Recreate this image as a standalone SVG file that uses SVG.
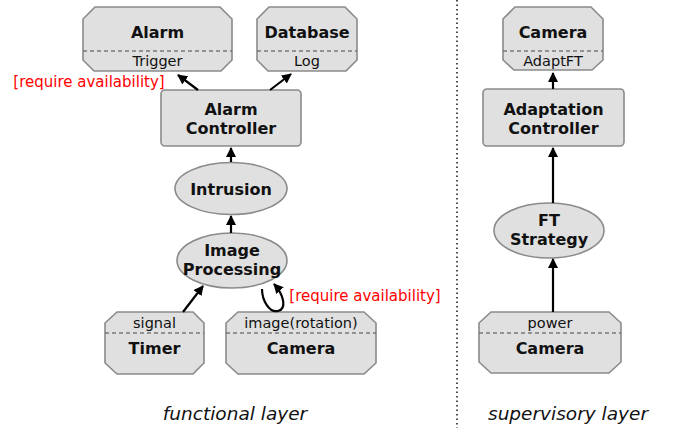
<svg xmlns="http://www.w3.org/2000/svg" width="673" height="428" viewBox="0 0 673 428">
<defs>
<marker id="ah" viewBox="0 0 10 10" refX="9" refY="5" markerWidth="10" markerHeight="10" markerUnits="userSpaceOnUse" orient="auto">
<path d="M0,0 L10,5 L0,10 Z" fill="#000"/>
</marker>
</defs>
<style>
.n{fill:#e0e0e0;stroke:#8a8a8a;stroke-width:1.6}
.d{stroke:#777;stroke-width:1.3;stroke-dasharray:4 3;fill:none}
.b{font-family:"DejaVu Sans",Verdana,sans-serif;font-weight:bold;font-size:16px;fill:#111;text-anchor:middle}
.r{font-family:"DejaVu Sans",Verdana,sans-serif;font-size:14.5px;fill:#111;text-anchor:middle}
.red{font-family:"DejaVu Sans",Verdana,sans-serif;font-size:15px;fill:#f00;text-anchor:middle}
.lay{font-family:"DejaVu Sans",Verdana,sans-serif;font-style:italic;font-size:18.5px;fill:#111;text-anchor:middle}
.c{fill:none;stroke:#000;stroke-width:2.2;marker-end:url(#ah)}
</style>
<rect width="673" height="428" fill="#fff"/>
<line x1="457" y1="0" x2="457" y2="428" stroke="#222" stroke-width="1.6" stroke-dasharray="1.5 3"/>

<g id="alarm">
<polygon class="n" points="95,7 220,7 232,19 232,60 221,71 94,71 83,60 83,19"/>
<line class="d" x1="83" y1="51" x2="232" y2="51"/>
<text class="b" x="157.5" y="38">Alarm</text>
<text class="r" x="157.5" y="66">Trigger</text>
</g>
<g id="database">
<polygon class="n" points="269,7 345,7 357,19 357,60 346,71 268,71 257,60 257,19"/>
<line class="d" x1="257" y1="51" x2="357" y2="51"/>
<text class="b" x="307" y="38">Database</text>
<text class="r" x="307" y="66">Log</text>
</g>
<g id="alarmController">
<rect class="n" x="161" y="90" width="140" height="56" rx="4"/>
<text class="b" x="231" y="115">Alarm</text>
<text class="b" x="231" y="134">Controller</text>
</g>
<g id="intrusion">
<ellipse class="n" cx="231" cy="188.5" rx="56" ry="26"/>
<text class="b" x="231" y="195">Intrusion</text>
</g>
<g id="imageProcessing">
<ellipse class="n" cx="232" cy="260.5" rx="55" ry="27.5"/>
<text class="b" x="232" y="256">Image</text>
<text class="b" x="232" y="275">Processing</text>
</g>
<g id="timer">
<polygon class="n" points="117,312 193,312 204,323 204,363 193,374 117,374 105,363 105,323"/>
<line class="d" x1="105" y1="333" x2="204" y2="333"/>
<text class="r" x="154.5" y="328">signal</text>
<text class="b" x="154.5" y="354">Timer</text>
</g>
<g id="cameraF">
<polygon class="n" points="238,312 364,312 376,323 376,363 364,374 238,374 226,363 226,323"/>
<line class="d" x1="226" y1="333" x2="376" y2="333"/>
<text class="r" x="301" y="328">image(rotation)</text>
<text class="b" x="301" y="354">Camera</text>
</g>
<g id="cameraTop">
<polygon class="n" points="515,7 591,7 603,19 603,60 592,70 514,70 503,60 503,19"/>
<line class="d" x1="503" y1="51" x2="603" y2="51"/>
<text class="b" x="553" y="38">Camera</text>
<text class="r" x="553" y="66">AdaptFT</text>
</g>
<g id="adaptationController">
<rect class="n" x="483" y="89" width="141" height="57" rx="4"/>
<text class="b" x="553.5" y="115">Adaptation</text>
<text class="b" x="553.5" y="134">Controller</text>
</g>
<g id="ftStrategy">
<ellipse class="n" cx="549" cy="230.5" rx="55" ry="27.5"/>
<text class="b" x="549" y="226">FT</text>
<text class="b" x="549" y="245">Strategy</text>
</g>
<g id="cameraS">
<polygon class="n" points="491,312 609,312 621,323 621,362 609,373 491,373 479,362 479,323"/>
<line class="d" x1="479" y1="333" x2="621" y2="333"/>
<text class="r" x="550" y="328">power</text>
<text class="b" x="550" y="354">Camera</text>
</g>

<g id="connectors">
<line class="c" x1="198" y1="90" x2="178" y2="75"/>
<line class="c" x1="270" y1="90" x2="291" y2="74"/>
<line class="c" x1="231" y1="162" x2="231" y2="148"/>
<line class="c" x1="231" y1="233" x2="231" y2="216"/>
<line class="c" x1="183" y1="312" x2="203" y2="286"/>
<path class="c" d="M262,289 C262,300 269,313 278,311 C287,309 284,295 274,284"/>
<line class="c" x1="553" y1="89" x2="553" y2="73"/>
<line class="c" x1="553" y1="203" x2="553" y2="148"/>
<line class="c" x1="553" y1="312" x2="553" y2="259"/>
</g>

<text class="red" x="89" y="87">[require availability]</text>
<text class="red" x="365" y="301">[require availability]</text>
<text class="lay" x="235" y="420">functional layer</text>
<text class="lay" x="568" y="420">supervisory layer</text>
</svg>
